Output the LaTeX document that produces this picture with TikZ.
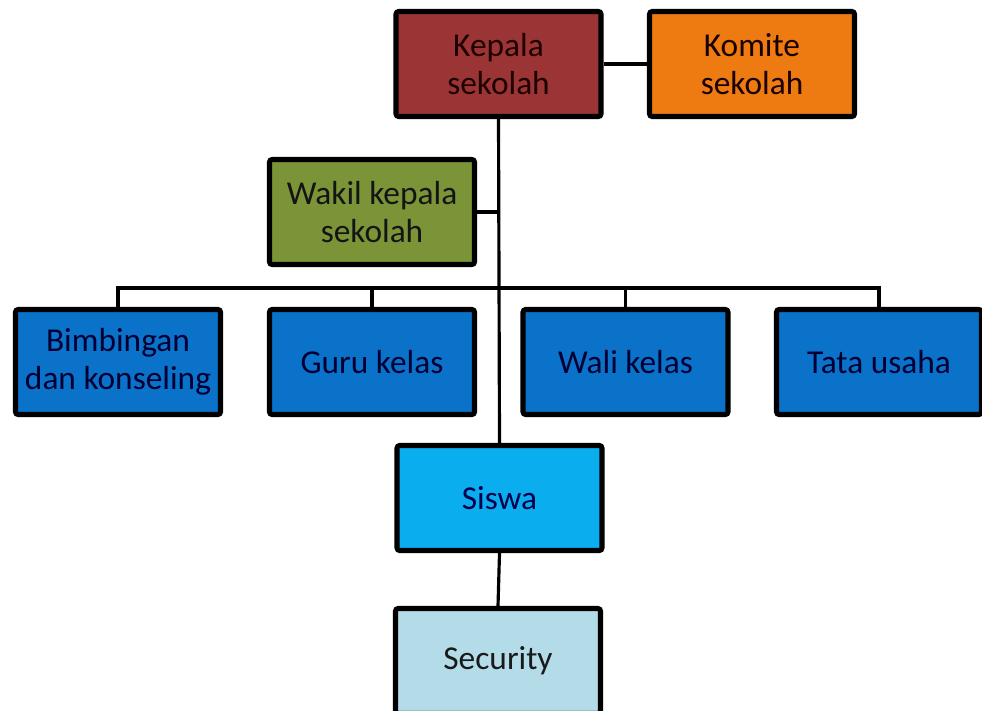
\documentclass[tikz,border=0pt]{standalone}
\usepackage{fontspec}
\setmainfont{Carlito}
\usepackage{tikz}
\usetikzlibrary{positioning}

\definecolor{kepalared}{HTML}{9B3535}
\definecolor{komiteorange}{HTML}{EE7A12}
\definecolor{wakilgreen}{HTML}{7A9437}
\definecolor{stafblue}{HTML}{0A72C8}
\definecolor{siswacyan}{HTML}{0AADEE}
\definecolor{securityblue}{HTML}{B4DBE8}

\begin{document}
\begin{tikzpicture}[x=0.02cm,y=-0.02cm,
  unit/.style={draw=black,line width=2.9pt,rounded corners=1.5pt,minimum width=4.1cm,minimum height=2.1cm,align=center,font=\fontsize{19}{21.5}\selectfont,inner sep=1pt},
  link/.style={line width=1.8pt}]
\clip (0,0) rectangle (982,710);
\node[unit,fill=kepalared,text=black!88!red] (kepala) at (498.5,64) {Kepala\\sekolah};
\node[unit,fill=komiteorange,text=black!90!red] (komite) at (752,64) {Komite\\sekolah};
\node[unit,fill=wakilgreen,text=black!92] (wakil) at (372,212) {Wakil kepala\\sekolah};
\node[unit,fill=stafblue,text=black!80!blue] (bimbingan) at (118,362) {Bimbingan\\dan konseling};
\node[unit,fill=stafblue,text=black!80!blue] (guru) at (372,362) {Guru kelas};
\node[unit,fill=stafblue,text=black!80!blue] (wali) at (625.5,362) {Wali kelas};
\node[unit,fill=stafblue,text=black!80!blue] (tata) at (879,362) {Tata usaha};
\node[unit,fill=siswacyan,text=black!70!blue] (siswa) at (499.5,498) {Siswa};
\node[unit,fill=securityblue,text=black!90] (security) at (498,661) {Security};
\coordinate (bar) at (499,288);
\draw[link] (kepala.east)--(komite.west);
\draw[link] (kepala.south)--(siswa.north);
\draw[link] (wakil.east)--(wakil.east -| kepala.south);
\draw[link] (bimbingan.north) |- (bar) -| (tata.north);
\draw[link] (guru.north)--(guru.north |- bar);
\draw[link] (wali.north)--(wali.north |- bar);
\draw[link] (siswa.south)--(security.north);
\end{tikzpicture}
\end{document}
